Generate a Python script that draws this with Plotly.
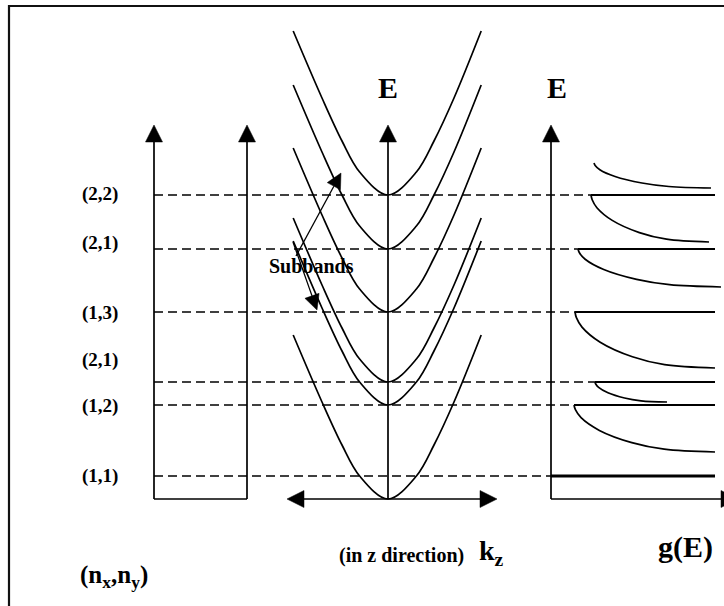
import plotly.graph_objects as go

# energy unit: 1 = 10 px on the reference; E = 0 at the k_z axis
level_labels = ["(2,2)", "(2,1)", "(1,3)", "(2,1)", "(1,2)", "(1,1)"]
level_E = [30.4, 25.0, 18.7, 11.7, 9.4, 2.3]
label_E = [30.5, 25.6, 18.6, 13.9, 9.3, 2.3]

# subband minima of the E(k_z) branches
subband_min = [30.4, 25.0, 18.7, 11.7, 9.4, 0.0]
band_k = [-2.37, -1.65, -1.15, -0.71, 0.0, 0.71, 1.15, 1.65, 2.33]
band_dE = [16.4, 9.7, 5.4, 2.3, 0.0, 2.3, 5.4, 9.7, 16.4]

# density of states branches g(E)
dos_E_start = [33.6, 30.4, 25.0, 18.7, 11.7, 9.4]
dos_E_end = [31.1, 25.7, 21.2, 13.1, 9.7, 4.7]
dos_g_start = [4.3, 4.0, 2.7, 2.4, 4.4, 2.3]
dos_g_end = [16.0, 15.8, 17.0, 16.4, 11.6, 16.4]
dos_shape_u = [0.0, 0.01, 0.05, 0.18, 0.41, 0.64, 1.0]
dos_shape_f = [0.0, 0.10, 0.27, 0.54, 0.80, 0.94, 1.0]
step_g_start = [4.0, 2.7, 2.4, 4.4, 2.3, 0.0]
step_g_end = 16.4

# layout of the three panels (canvas x units = px)
BOX_X = [154, 247]
DASH_X = [154, 715]
K_X0, K_PX = 388, 40
G_X0, G_PX = 551, 10
AXIS_TOP = 37.4
FONT = "Liberation Serif, Times New Roman, serif"
BLACK = "#000000"

fig = go.Figure()


def line(x, y, width=1.7, dash=None, shape="linear"):
    fig.add_trace(go.Scatter(x=x, y=y, mode="lines", hoverinfo="skip",
                             line=dict(color=BLACK, width=width, dash=dash, shape=shape)))


def arrow(x, y, size=17, width=1.7):
    fig.add_trace(go.Scatter(x=x, y=y, mode="lines+markers", hoverinfo="skip",
                             line=dict(color=BLACK, width=width),
                             marker=dict(symbol="arrow-up", angleref="previous",
                                         size=[0, size], color=BLACK, opacity=1,
                                         line=dict(color=BLACK, width=0.5))))


# dashed subband levels
for e in level_E:
    line(DASH_X, [e, e], width=1.5, dash="9px,5px")

# left box with two up arrows
line(BOX_X, [0, 0])
for bx in BOX_X:
    arrow([bx, bx], [0, AXIS_TOP])

# E(k_z) subbands
for e0 in subband_min:
    line([K_X0 + k * K_PX for k in band_k], [e0 + d for d in band_dE], shape="spline")
arrow([K_X0, K_X0], [0, AXIS_TOP])
arrow([K_X0, 287], [0, 0])
arrow([K_X0, 497], [0, 0])

# "Subbands" pointers
arrow([296, 341], [24.3, 32.6], size=15, width=1.3)
arrow([293, 317], [25.7, 18.9], size=15, width=1.3)

# g(E) panel
arrow([G_X0, G_X0], [0, AXIS_TOP])
arrow([G_X0, 738], [0, 0])
for i, gs in enumerate(step_g_start):
    e = level_E[i]
    line([G_X0 + gs * G_PX, G_X0 + step_g_end * G_PX], [e, e],
         width=3 if gs == 0 else 1.8)
for es, ee, gs, ge in zip(dos_E_start, dos_E_end, dos_g_start, dos_g_end):
    xs = [G_X0 + (gs + u * (ge - gs)) * G_PX for u in dos_shape_u]
    ys = [es - f * (es - ee) for f in dos_shape_f]
    line(xs, ys, shape="spline")

# text
for lab, e in zip(level_labels, label_E):
    fig.add_annotation(x=80, y=e, text="<b>%s</b>" % lab, xanchor="left",
                       showarrow=False, font=dict(size=19))
notes = [
    (388, 41.2, "<b>E</b>", 30),
    (557, 41.2, "<b>E</b>", 30),
    (311, 23.3, "<b>Subbands</b>", 20),
    (401, -5.6, "<b>(in z direction)</b>", 20),
    (491, -5.3, "<b>k<sub>z</sub></b>", 28),
    (685, -4.8, "<b>g(E)</b>", 30),
    (114, -7.7, "<b>(n<sub>x</sub>,n<sub>y</sub>)</b>", 25),
]
for x, y, t, s in notes:
    fig.add_annotation(x=x, y=y, text=t, showarrow=False, font=dict(size=s))

# outer frame, running off the right and bottom edges
fig.add_shape(type="rect", xref="paper", yref="paper",
              x0=9 / 724, x1=1.2, y0=-0.2, y1=1 - 6 / 606,
              line=dict(color="#111111", width=2.2))

fig.update_layout(
    width=724, height=606, autosize=False,
    margin=dict(l=0, r=0, t=0, b=0),
    paper_bgcolor="white", plot_bgcolor="white",
    showlegend=False,
    font=dict(family=FONT, color=BLACK),
    xaxis=dict(range=[0, 724], visible=False, fixedrange=True),
    yaxis=dict(range=[-10.7, 49.9], visible=False, fixedrange=True),
)

# the page's default body margin would shift the figure by 8 px
fig.write_html("out.html", config={"displayModeBar": False},
               post_script="document.body.style.margin='0';document.body.style.overflow='hidden';")
